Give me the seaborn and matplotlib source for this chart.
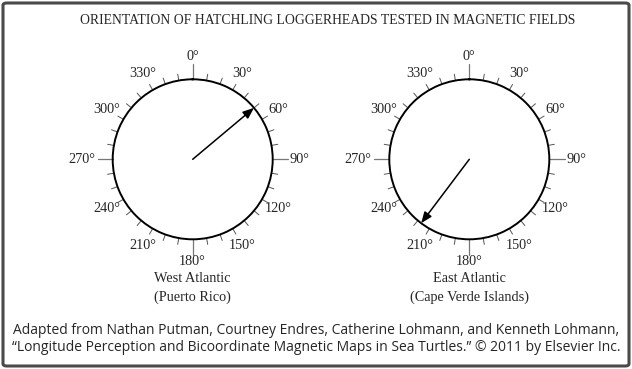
import numpy as np
import matplotlib
matplotlib.use("Agg")
import matplotlib.pyplot as plt
from matplotlib.patches import FancyBboxPatch
import seaborn as sns

# ---- data ----
regions = ["West Atlantic", "East Atlantic"]
locations = ["(Puerto Rico)", "(Cape Verde Islands)"]
mean_headings = [50, 217]          # degrees, clockwise from north
arrow_lengths = [1.0, 1.0]         # fraction of circle radius
label_angles = [0, 30, 60, 90, 120, 150, 180, 210, 240, 270, 300, 330]
tick_labels = [f"{a}°" for a in label_angles]
minor_angles = [a for a in range(0, 360, 10) if a % 90 != 0]
major_angles = [0, 90, 180, 270]
title = "ORIENTATION OF HATCHLING LOGGERHEADS TESTED IN MAGNETIC FIELDS"
caption_lines = [
    "Adapted from Nathan Putman, Courtney Endres, Catherine Lohmann, and Kenneth Lohmann,",
    "\u201cLongitude Perception and Bicoordinate Magnetic Maps in Sea Turtles.\u201d \u00a9 2011 by Elsevier Inc.",
]

sns.set_theme(style="white")
plt.rcParams["font.family"] = ["Liberation Serif", "DejaVu Serif"]

W, H = 632, 369
fig = plt.figure(figsize=(W / 100, H / 100), dpi=100)
fig.patch.set_facecolor("white")

R = 80.0
centers = [(192.7, 159.3), (469.3, 159.3)]
FS = 10.3

for i, (cx, cy) in enumerate(centers):
    ax = fig.add_axes([(cx - R) / W, (H - cy - R) / H, 2 * R / W, 2 * R / H],
                      projection="polar")
    ax.set_theta_zero_location("N")
    ax.set_theta_direction(-1)
    ax.set_ylim(0, 1)
    ax.grid(False)
    ax.set_xticks([])
    ax.set_yticks([])
    ax.set_facecolor("white")
    ax.spines["polar"].set_linewidth(1.4)
    ax.spines["polar"].set_color("black")

    for a in minor_angles:
        t = np.deg2rad(a)
        ax.plot([t, t], [1.01, 1.08], color="#555555", lw=0.7, clip_on=False)
    for a in major_angles:
        t = np.deg2rad(a)
        ax.plot([t, t], [1.0, 1.19], color="#777777", lw=0.9, clip_on=False)

    for a, lab in zip(label_angles, tick_labels):
        t = np.deg2rad(a)
        if a == 0:
            ax.text(t, 1.21, lab, ha="center", va="bottom", fontsize=FS)
        elif a == 180:
            ax.text(t, 1.2, lab, ha="center", va="top", fontsize=FS)
        elif a == 90:
            ax.text(t, 1.21, lab, ha="left", va="center", fontsize=FS)
        elif a == 270:
            ax.text(t, 1.22, lab, ha="right", va="center", fontsize=FS)
        else:
            ax.text(t, 1.24, lab, ha="center", va="center", fontsize=FS)

    th = np.deg2rad(mean_headings[i])
    ax.annotate("", xy=(th, arrow_lengths[i]), xytext=(0, 0),
                arrowprops=dict(arrowstyle="-|>,head_length=0.55,head_width=0.22",
                                color="black", lw=1.1,
                                mutation_scale=12, shrinkA=0, shrinkB=0),
                annotation_clip=False)

    fig.text(cx / W, 1 - 279 / H, regions[i], ha="center", va="center", fontsize=10.3)
    fig.text(cx / W, 1 - 297 / H, locations[i], ha="center", va="center", fontsize=10.3)

fig.text(328 / W, 1 - 20 / H, title, ha="center", va="center", fontsize=9.9)
for k, (line, yb) in enumerate(zip(caption_lines, [334, 351])):
    fig.text(316 / W, 1 - yb / H, line, ha="center", va="baseline", fontsize=10,
             family=["Open Sans", "DejaVu Sans"])

border = FancyBboxPatch((3 / W, 3 / H), 1 - 6 / W, 1 - 6 / H,
                        boxstyle="round,pad=0,rounding_size=0.006",
                        transform=fig.transFigure, fill=False,
                        edgecolor="#4a4a4a", lw=2.2)
fig.patches.append(border)

fig.savefig("out.png", dpi=100)
